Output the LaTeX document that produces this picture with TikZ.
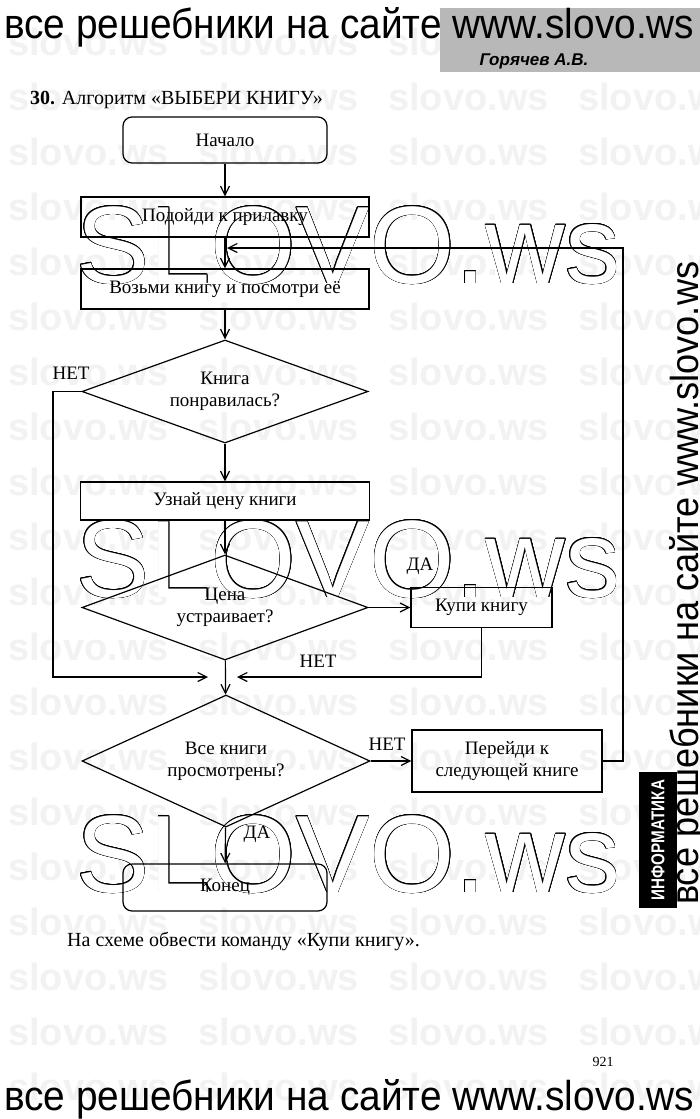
\documentclass[tikz,border=0pt]{standalone}
\usepackage{graphicx}
\usepackage{fontspec}
\setmainfont{Liberation Serif}
\setsansfont{Liberation Sans}
\usetikzlibrary{shapes.geometric, arrows.meta, calc}

\newcommand\flowfont{\fontsize{19}{22}\selectfont}

\tikzset{
  box/.style={draw, line width=1.2pt, minimum width=288pt, minimum height=40pt, inner sep=2pt, align=center, font=\flowfont},
  term/.style={box, rounded corners=9pt, minimum width=204pt, minimum height=46pt},
  ask/.style={draw, diamond, aspect=2.75, line width=1.2pt, inner sep=0pt, minimum width=286pt, minimum height=104pt, align=center, font=\flowfont},
  lbl/.style={font=\flowfont, inner sep=0pt},
  link/.style={line width=1.2pt},
  arr/.style={link, -{Straight Barb[length=9pt,width=9pt]}},
  wmark/.style={font=\sffamily\bfseries\fontsize{38}{38}\selectfont, text=black!5, inner sep=0pt, anchor=base west},
  bigmark/.style={font=\sffamily\fontsize{110}{110}\selectfont, inner sep=0pt, anchor=base west},
}

\begin{document}
\begin{tikzpicture}[x=1pt, y=-1pt]
        \fill[white] (0,0) rectangle (700,1119);
        \useasboundingbox (0,0) rectangle (700,1119);

        % Faint watermark rows
        \foreach \r in {0,...,19}
          \foreach \c in {0,...,3}
            \node[wmark] (wm\r-\c) at (8+190*\c, 55+55*\r) {slovo.ws};

        % Big outlined watermarks
        \foreach \y [count=\i] in {283,597,892} {
          \foreach \k in {1,...,16}
            \node[bigmark, text=black] (big\i-\k) at ($(76,\y)+(\k*22.5:0.5pt)$) {SLOVO.ws};
          \node[bigmark, text=white] (big\i) at (76,\y) {SLOVO.ws};
        }

        % Page head
        \fill[black!28] (440,8) rectangle (700,72);
        \node[anchor=base west, inner sep=0pt] (head) at (4,38) {\resizebox{690pt}{31pt}{\sffamily все решебники на сайте www.slovo.ws}};
        \node[anchor=base, font=\sffamily\bfseries\itshape\fontsize{17}{17}\selectfont] (author) at (534,65) {Горячев А.В.};
        \node[anchor=base west, inner sep=0pt, font=\fontsize{20}{22}\selectfont] (title) at (30,104) {\textbf{30.} Алгоритм «ВЫБЕРИ КНИГУ»};

        % Draw nodes
        \node[term] (start) at (225,140) {Начало};
        \node[box] (approach) at (225,217) {Подойди к прилавку};
        \node[box] (take) at (225,289) {Возьми книгу и посмотри её};
        \node[ask, minimum height=103pt] (liked) at (225,391.5) {Книга\\понравилась?};
        \node[box, minimum height=38pt, minimum width=289pt] (price) at (225,501) {Узнай цену книги};
        \node[ask, minimum height=105pt] (fits) at (225,607.5) {Цена\\устраивает?};
        \node[box, minimum width=141pt] (buy) at (481.5,607.5) {Купи книгу};
        \node[ask, minimum width=288pt, minimum height=132pt] (allseen) at (226,761) {Все книги\\просмотрены?};
        \node[box, minimum width=190pt, minimum height=62pt] (next) at (507,761) {Перейди к\\следующей книге};
        \node[term, minimum height=47pt] (finish) at (225,887.5) {Конец};

        % Free ends
        \coordinate (joinR) at (237,677);
        \coordinate (joinL) at (208,677);
        \coordinate (noL) at (53,677);
        \coordinate (loopR) at (623,248);
        \coordinate (loopT) at (227,248);

        % Draw connections
        \draw[arr] (start) -- (approach);
        \draw[arr] (approach) -- (take);
        \draw[arr] (take) -- (liked);
        \draw[arr] (liked) -- (price);
        \draw[arr] (price) -- (fits);
        \draw[arr] (fits) -- (buy);
        \draw[arr] (fits) -- (allseen);
        \draw[arr] (allseen) -- (next);
        \draw[arr] (allseen) -- (finish);
        \draw[arr] (buy.south) |- (joinR);
        \draw[arr] (liked.west) -| (noL) -- (joinL);
        \draw[arr] (next.east) -| (loopR) -- (loopT);

        % Branch labels
        \node[lbl] (noLiked) at (71,373) {НЕТ};
        \node[lbl] (yesFits) at (420,566) {ДА};
        \node[lbl] (noFits) at (318,661) {НЕТ};
        \node[lbl] (noSeen) at (387,744) {НЕТ};
        \node[lbl] (yesSeen) at (257,834) {ДА};

        % Page foot
        \node[anchor=base west, inner sep=0pt, font=\fontsize{20}{22}\selectfont] (task) at (67,946) {На схеме обвести команду «Купи книгу».};
        \node[anchor=base, font=\fontsize{14}{14}\selectfont] (page) at (603,1066) {921};
        \node[anchor=base west, inner sep=0pt] (foot) at (4,1110) {\resizebox{690pt}{31pt}{\sffamily все решебники на сайте www.slovo.ws}};

        % Side strip
        \node[fill=black, rotate=90, minimum width=136pt, minimum height=38pt, inner sep=0pt] (subject) at (658,840) {\resizebox{120pt}{13pt}{\color{white}\sffamily\bfseries ИНФОРМАТИКА}};
        \node[rotate=90, anchor=base west, inner sep=0pt] (side) at (698,905) {\resizebox{643pt}{29pt}{\sffamily все решебники на сайте www.slovo.ws}};
    \end{tikzpicture}
\end{document}
